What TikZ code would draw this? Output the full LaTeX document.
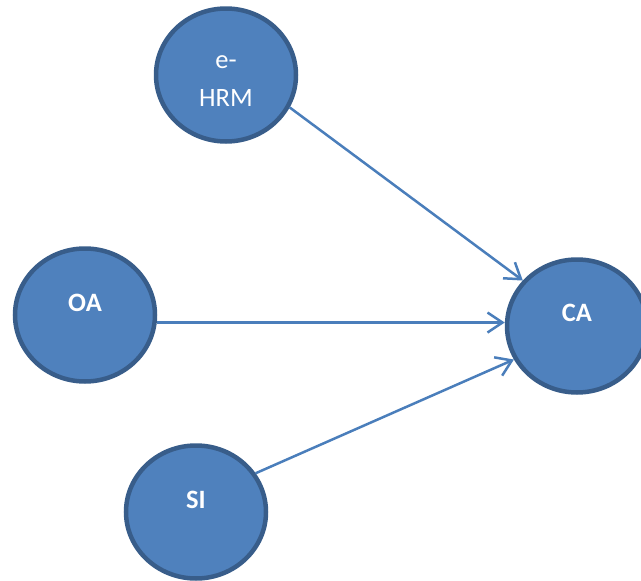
\documentclass[tikz,border=0pt]{standalone}
\usepackage{fontspec}
\setmainfont{Carlito}
\usetikzlibrary{arrows.meta,calc,positioning,shapes.geometric}
\definecolor{varfill}{HTML}{4F81BD}
\definecolor{varline}{HTML}{385D8A}
\definecolor{linkcol}{HTML}{4A7EBB}

\begin{document}
\begin{tikzpicture}[x=1pt,y=-1pt,
  var/.style={ellipse, draw=varline, fill=varfill, line width=4.5pt, minimum width=140pt, minimum height=133pt, inner sep=0pt},
  lbl/.style={text=white, anchor=base, font=\fontsize{26.5}{38}\selectfont, align=center, inner sep=0pt},
  blbl/.style={lbl, font=\fontsize{26.5}{38}\selectfont\bfseries},
  link/.style={-{Straight Barb[length=15pt, width=20pt]}, linkcol, line width=2.5pt}]
  % page frame, CA runs off the right side
  \clip (0,0) rectangle (641,581);

  % The four variables
  \node[var] (ehrm) at (226,75) {};
  \node[var] (oa) at (85,315) {};
  \node[var] (ca) at (577,326) {};
  \node[var] (si) at (196,512) {};

  % Labels (sit a bit above the centre)
  \node[lbl] (ehrmtxt) at ([yshift=-31pt]ehrm.center) {e-\\HRM};
  \node[blbl] (oatxt) at ([yshift=4pt]oa.center) {OA};
  \node[blbl] (catxt) at ([yshift=5pt]ca.center) {CA};
  \node[blbl] (sitxt) at ([yshift=4pt]si.center) {SI};

  % Links into CA
  \draw[link] (ehrm.-27) -- (ca.140);
  \draw[link] (oa.-6) -- (oa.-6 -| ca.west);
  \draw[link] (si.33) -- (ca.208);
\end{tikzpicture}
\end{document}
